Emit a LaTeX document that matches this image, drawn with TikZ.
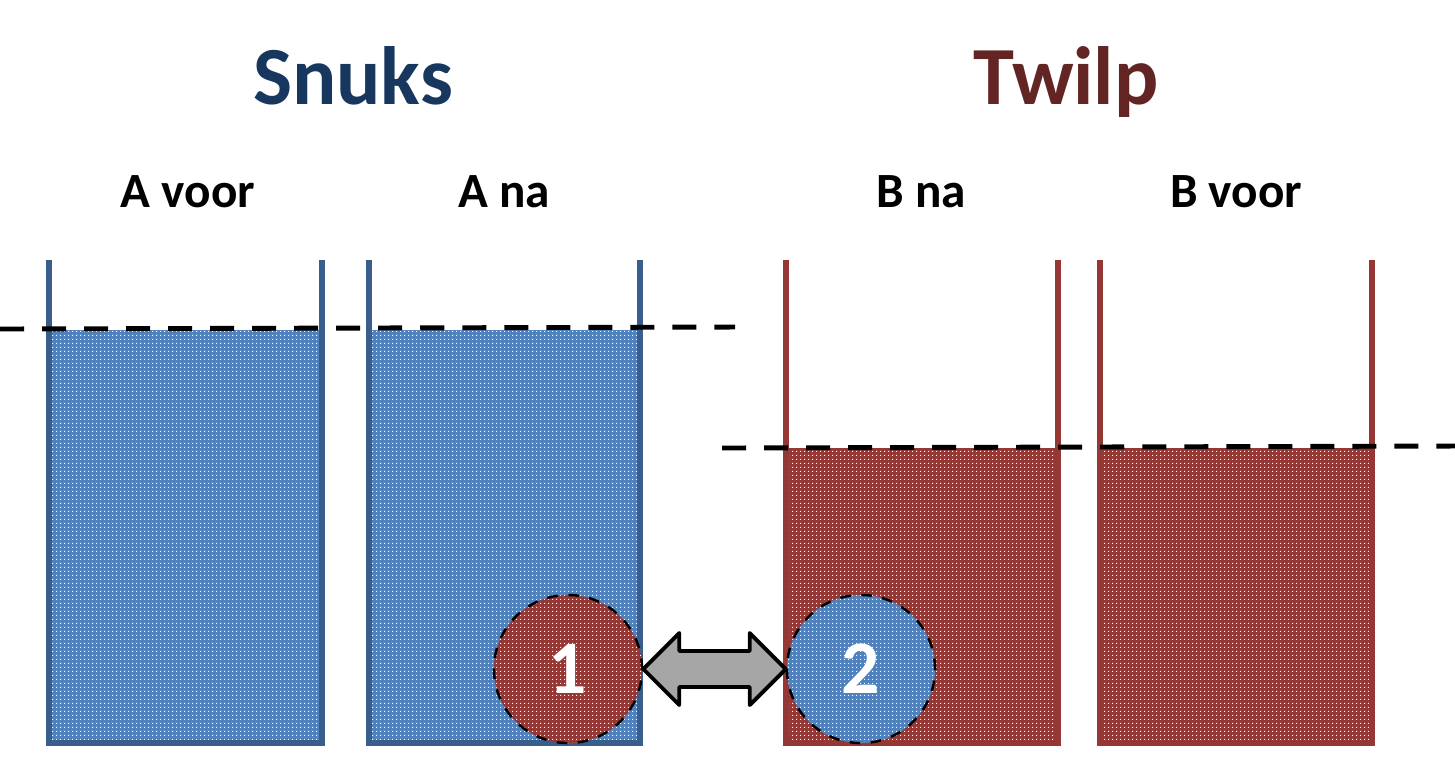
\documentclass[tikz,border=0pt]{standalone}
\usepackage{fontspec}
\setmainfont{Carlito}
\usetikzlibrary{positioning, calc, patterns}

\pgfdeclarepatternformonly{finedots}{\pgfpointorigin}{\pgfqpoint{1.138pt}{1.138pt}}{\pgfqpoint{1.138pt}{1.138pt}}{%
  \pgfpathrectangle{\pgfpointorigin}{\pgfqpoint{0.43pt}{0.43pt}}\pgfusepath{fill}}

\begin{document}
\begin{tikzpicture}[x=0.01cm, y=-0.01cm]
  % Colors for the two vessels
  \definecolor{snukscolor}{RGB}{23,55,94}     % Dark blue
  \definecolor{twilpcolor}{RGB}{99,37,35}     % Dark red
  \definecolor{blueline}{RGB}{57,94,140}
  \definecolor{bluefill}{RGB}{79,129,189}
  \definecolor{redline}{RGB}{149,55,53}
  \definecolor{redfill}{RGB}{149,55,53}
  \definecolor{swapcolor}{RGB}{166,166,166}   % Gray

  \tikzset{
    vessel/.style={line width=1.7pt},
    level/.style={line width=1.4pt, dash pattern=on 0.24cm off 0.18cm},
    dots/.style={pattern=finedots, pattern color=white},
    title/.style={anchor=base, font=\fontsize{23.5}{28}\selectfont\bfseries},
    label/.style={anchor=base, font=\fontsize{14}{17}\selectfont\bfseries},
    ball/.style={circle, dashed, line width=0.7pt, minimum size=1.48cm, inner sep=0pt, text=white, font=\fontsize{21.5}{24}\selectfont\bfseries},
    swap/.style={draw=black, fill=swapcolor, line width=1.1pt, line join=round}
  }

  \useasboundingbox (0,0) rectangle (1455,759);

  % Titles
  \node[title, text=snukscolor] (snuks) at (353,104) {Snuks};
  \node[title, text=twilpcolor] (twilp) at (1066,104) {Twilp};

  % Vessel labels
  \node[label] (avoor) at (188,207) {A voor};
  \node[label] (ana) at (504,207) {A na};
  \node[label] (bna) at (921,207) {B na};
  \node[label] (bvoor) at (1236,207) {B voor};

  % Liquid
  \fill[bluefill] (49,330) rectangle (322,743);
  \fill[dots] (49,330) rectangle (322,743);
  \fill[bluefill] (369,330) rectangle (640,743);
  \fill[dots] (369,330) rectangle (640,743);
  \fill[redfill] (786,448) rectangle (1058,743);
  \fill[dots] (786,448) rectangle (1058,743);
  \fill[redfill] (1100,448) rectangle (1372,743);
  \fill[dots] (1100,448) rectangle (1372,743);

  % Vessel walls
  \draw[vessel, blueline] (49,260) |- (322,743) -- (322,260);
  \draw[vessel, blueline] (369,260) |- (640,743) -- (640,260);
  \draw[vessel, redline] (786,260) |- (1058,743) -- (1058,260);
  \draw[vessel, redline] (1100,260) |- (1372,743) -- (1372,260);

  % Levels
  \draw[level] (0,329) -- (735,327);
  \draw[level] (722,448) -- (1455,446);

  % Exchanged particles
  \node[ball, fill=redfill] (one) at (568,669) {};
  \node[ball, dots] at (one) {};
  \node[ball, draw=black] at (one) {1};
  \node[ball, fill=bluefill] (two) at (861,669) {};
  \node[ball, dots] at (two) {};
  \node[ball, draw=black] at (two) {2};

  % Double arrow between the particles
  \coordinate (tl) at (one.east);
  \coordinate (tr) at (two.west);
  \draw[swap] (tl) -- ($(tl)+(36,-36)$) -- ($(tl)+(36,-18)$) -- ($(tr)+(-36,-18)$)
    -- ($(tr)+(-36,-36)$) -- (tr) -- ($(tr)+(-36,36)$) -- ($(tr)+(-36,18)$)
    -- ($(tl)+(36,18)$) -- ($(tl)+(36,36)$) -- cycle;
\end{tikzpicture}
\end{document}
